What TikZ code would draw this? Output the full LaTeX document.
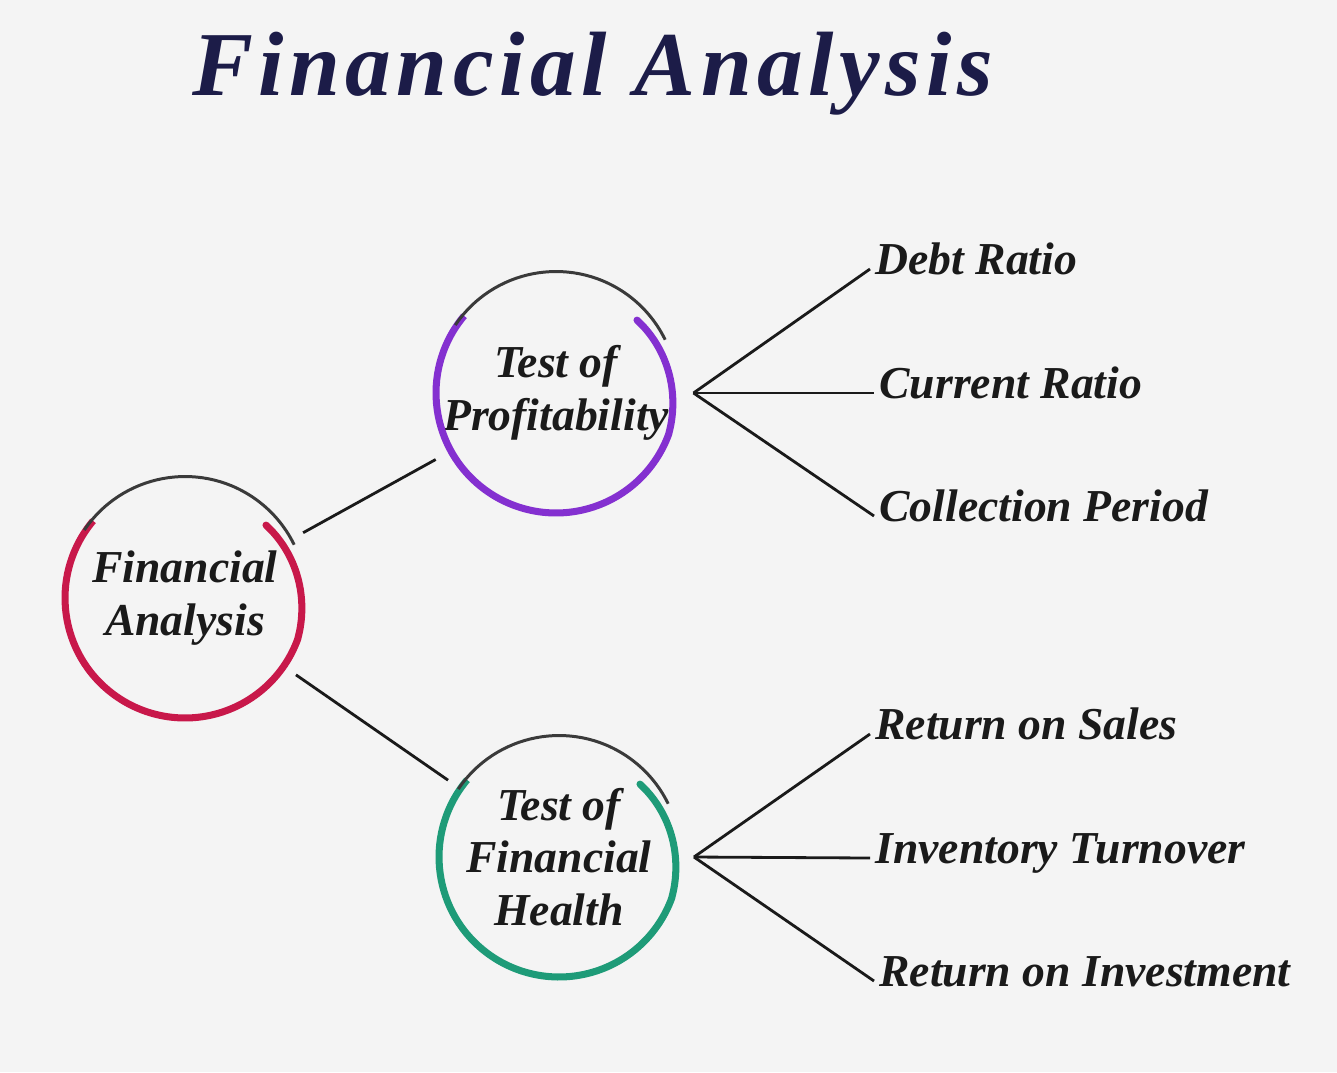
\documentclass[tikz,border=0pt]{standalone}
\usepackage{fontspec}
\setmainfont{Liberation Serif}
\definecolor{paper}{HTML}{F4F4F4}
\definecolor{ink}{HTML}{1A1A1A}
\definecolor{navy}{HTML}{1C1C48}
\definecolor{arcgray}{HTML}{3A3A3A}
\definecolor{crimson}{HTML}{C8184A}
\definecolor{violet}{HTML}{8430D0}
\definecolor{teal}{HTML}{1E9B78}
\newcommand\lblfont{\bfseries\itshape\fontsize{26}{30}\selectfont}
% ring with a swoosh on the right, gray arc over the top
\newcommand\swirl[2]{%
  \begin{scope}[shift={(#1.center)}]
    \draw[#2,line width=4pt] (140:2.4cm) arc[start angle=140,end angle=340,radius=2.4cm];
    \draw[#2,line width=4pt,line cap=round] plot[smooth,domain=42:-20,samples=14] (\x:{2.18cm+0.22cm*(42-\x)/62});
    \draw[arcgray,line width=1.7pt] (146:2.43cm) arc[start angle=146,end angle=26,radius=2.43cm];
  \end{scope}}
\begin{document}
\begin{tikzpicture}[x=0.02cm,y=-0.02cm,
  ring/.style={circle,minimum size=4.8cm,inner sep=0pt,outer sep=0.3cm,align=center,text=ink,font=\lblfont},
  item/.style={anchor=west,inner sep=0.1cm,text=ink,font=\lblfont,text height=0.75em,text depth=0.15em},
  link/.style={ink,line width=1.6pt}]
\fill[paper] (0,0) rectangle (1337,1072);
\node[anchor=base west,text=navy,font=\bfseries\itshape\fontsize{52}{60}\selectfont\addfontfeatures{LetterSpace=6}] (title) at (186,95) {Financial Analysis};

\node[ring] (fa) at (185,598) {Financial\\Analysis};
\node[ring] (tp) at (556,393) {Test of\\Profitability};
\node[ring] (th) at (559,857) {Test of\\Financial\\Health};
\swirl{fa}{crimson}
\swirl{tp}{violet}
\swirl{th}{teal}

\draw[link] (fa) -- (tp);
\draw[link] (fa) -- (th);

\node[item] (debt) at (870,269) {Debt Ratio};
\node[item] (curr) at (874,393) {Current Ratio};
\node[item] (coll) at (874,516) {Collection Period};
\node[item] (ros) at (870,734) {Return on Sales};
\node[item] (inv) at (870,858) {Inventory Turnover};
\node[item] (roi) at (874,981) {Return on Investment};

\foreach \t in {debt,curr,coll} \draw[link] (tp.east) -- (\t.west);
\foreach \t in {ros,inv,roi} \draw[link] (th.east) -- (\t.west);
\end{tikzpicture}
\end{document}
